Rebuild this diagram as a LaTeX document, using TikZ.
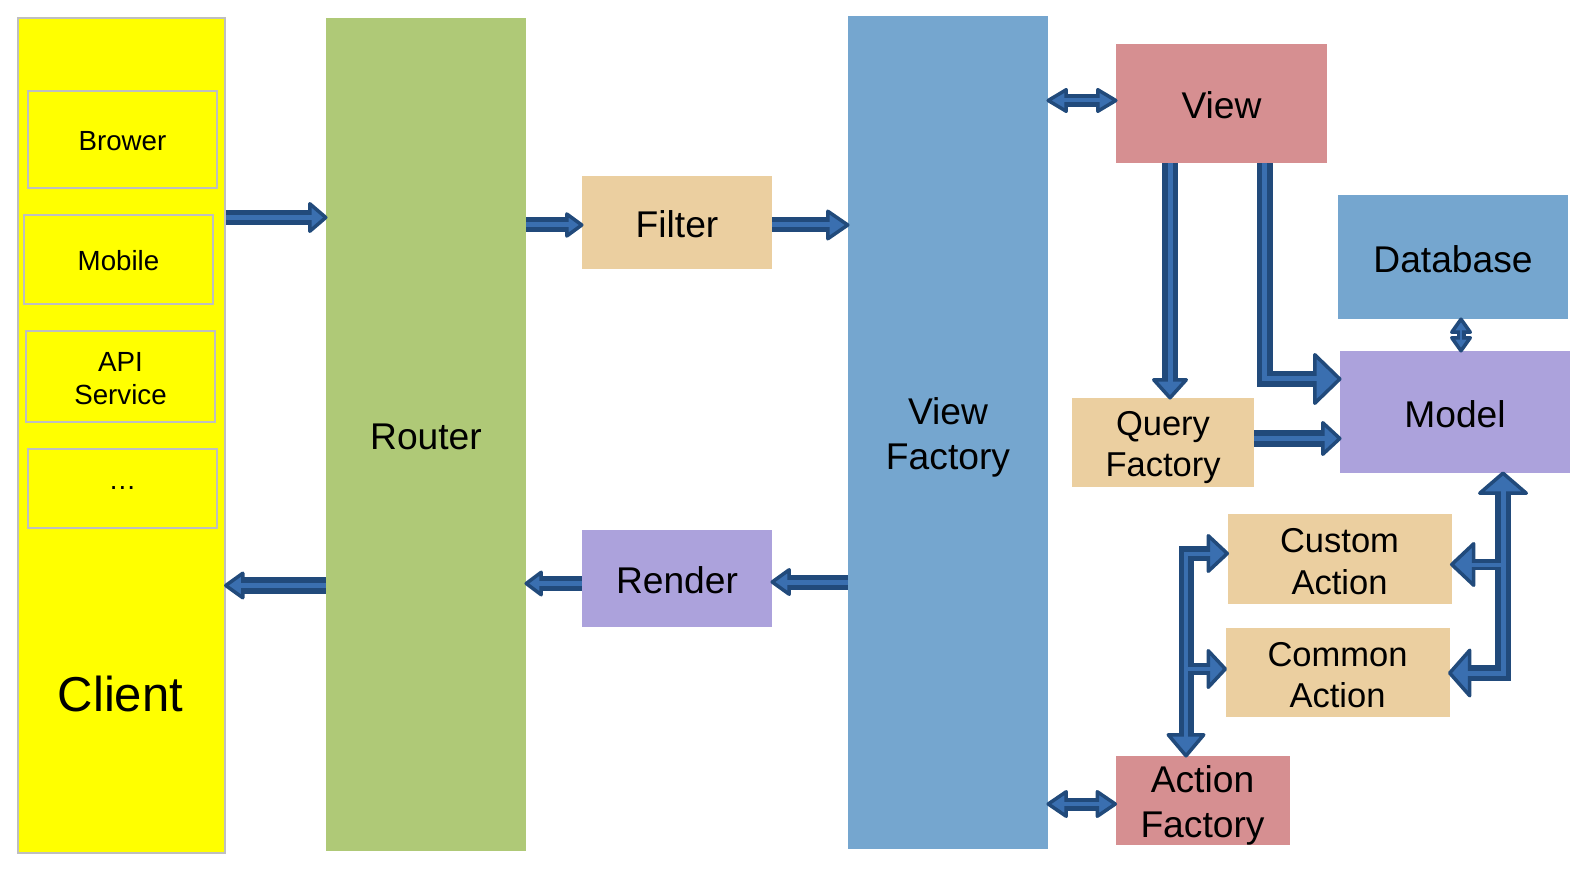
\documentclass[tikz,border=0pt]{standalone}
\usepackage{fontspec}
\setmainfont{Liberation Sans}
\usetikzlibrary{calc}
\definecolor{cyellow}{HTML}{FFFF00}
\definecolor{cgray}{HTML}{BFBFBF}
\definecolor{cgreen}{HTML}{AFC977}
\definecolor{cblue}{HTML}{75A6CF}
\definecolor{ctan}{HTML}{EBCFA0}
\definecolor{cpink}{HTML}{D68F91}
\definecolor{cpurple}{HTML}{ACA2DC}
\definecolor{adark}{HTML}{214A7B}
\definecolor{alight}{HTML}{3A6FB0}
\newcommand\ps{\rule[-0.15em]{0pt}{1.13em}}
\newcommand\ahead[3]{\filldraw[ahd] ($(#1)!#3!90:(#2)$) -- (#2) -- ($(#1)!#3!-90:(#2)$) -- cycle;}
\newcommand\sarrow[6]{%
 \coordinate (hb) at ($(#2)!#3!(#1)$);
 \coordinate (he) at ($(hb)!3pt!(#2)$);
 \draw[sdk, line width=#4] (#1) -- (he);
 \ahead{hb}{#2}{#5}
 \draw[slt, line width=#6] (#1) -- (he);
}
\newcommand\darrow[6]{%
 \coordinate (hb1) at ($(#1)!#3!(#2)$);
 \coordinate (hb2) at ($(#2)!#3!(#1)$);
 \coordinate (he1) at ($(hb1)!3pt!(#1)$);
 \coordinate (he2) at ($(hb2)!3pt!(#2)$);
 \draw[sdk, line width=#4] (he1) -- (he2);
 \ahead{hb1}{#1}{#5}\ahead{hb2}{#2}{#5}
 \draw[slt, line width=#6] (he1) -- (he2);
}
\begin{document}
\begin{tikzpicture}[x=1pt,y=-1pt,
 box/.style={rectangle, inner sep=0pt, align=center, text=black},
 sub/.style={box, fill=cyellow, draw=cgray, line width=2pt, minimum width=189pt},
 fsmall/.style={font=\fontsize{27.7}{33.4}\selectfont},
 fmain/.style={font=\fontsize{37.2}{44.6}\selectfont},
 fmid/.style={font=\fontsize{34.5}{41.5}\selectfont},
 sdk/.style={draw=adark, line cap=butt, line join=miter},
 slt/.style={draw=alight, line cap=butt, line join=miter},
 ahd/.style={fill=alight, draw=adark, line width=3.5pt, line join=round}]
\useasboundingbox (0,0) rectangle (1588,874);
\fill[white] (0,0) rectangle (1588,874);
% client column
\node[box, fill=cyellow, draw=cgray, line width=1.5pt, minimum width=207pt, minimum height=835pt] (client) at (121.5,435.5) {};
\node[sub, fsmall, minimum height=97pt] (brower) at (122.5,139.5) {\ps Brower};
\node[sub, fsmall, minimum height=89pt] (mobile) at (118.5,259.5) {\ps Mobile};
\node[sub, fsmall, minimum height=91pt] (api) at (120.5,376.5) {\ps API\\\ps Service};
\node[sub, fsmall, minimum height=79pt] (dots) at (122.5,488.5) {…};
\node[box, font=\fontsize{49}{58}\selectfont] (clientlbl) at (120.5,694) {Client};
% main columns
\node[box, fmain, fill=cgreen, minimum width=200pt, minimum height=833pt] (router) at (426,434.5) {\ps Router};
\node[box, fmain, fill=ctan, minimum width=190pt, minimum height=93pt] (filter) at (677,222.5) {\ps Filter};
\node[box, fmain, fill=cpurple, minimum width=190pt, minimum height=97pt] (render) at (677,578.5) {\ps Render};
\node[box, fmain, fill=cblue, minimum width=200pt, minimum height=833pt, font=\fontsize{37.2}{45.5}\selectfont] (vf) at (948,432.5) {\ps View\\\ps Factory};
\node[box, fmain, fill=cpink, minimum width=211pt, minimum height=119pt] (view) at (1221.5,103.5) {\ps View};
\node[box, fmain, fill=cblue, minimum width=230pt, minimum height=124pt] (database) at (1453,257) {\ps Database};
\node[box, fmain, fill=cpurple, minimum width=230pt, minimum height=122pt] (model) at (1455,412) {\ps Model};
\node[box, fmid, fill=ctan, minimum width=182pt, minimum height=89pt] (query) at (1163,442.5) {\ps Query\\\ps Factory};
\node[box, fmid, fill=ctan, minimum width=224pt, minimum height=90pt] (custom) at (1339.5,559) {\ps Custom\\\ps Action};
\node[box, fmid, fill=ctan, minimum width=224pt, minimum height=89pt] (common) at (1337.5,672.5) {\ps Common\\\ps Action};
\node[box, fmain, fill=cpink, minimum width=174pt, minimum height=89pt] (actionf) at (1202.5,800.5) {\ps Action\\\ps Factory};
% straight arrows
\coordinate (a1s) at (client.east |- 0,217.5); \coordinate (a1t) at (router.west |- 0,217.5);
\sarrow{a1s}{a1t}{16pt}{15pt}{13.75pt}{5pt}
\coordinate (a2s) at (router.west |- 0,585.5); \coordinate (a2t) at (client.east |- 0,585.5);
\sarrow{a2s}{a2t}{17pt}{17pt}{12.25pt}{5pt}
\coordinate (a3s) at (router.east |- 0,225); \coordinate (a3t) at (filter.west |- 0,225);
\sarrow{a3s}{a3t}{15pt}{15pt}{11pt}{5pt}
\coordinate (a4s) at (filter.east |- 0,225); \coordinate (a4t) at (vf.west |- 0,225);
\sarrow{a4s}{a4t}{20pt}{15pt}{13.75pt}{5pt}
\coordinate (a5s) at (render.west |- 0,583.5); \coordinate (a5t) at (router.east |- 0,583.5);
\sarrow{a5s}{a5t}{15pt}{15pt}{11.25pt}{5pt}
\coordinate (a6s) at (vf.west |- 0,582); \coordinate (a6t) at (render.east |- 0,582);
\sarrow{a6s}{a6t}{17pt}{15pt}{12.25pt}{5pt}
\coordinate (a7s) at (vf.east |- 0,100.5); \coordinate (a7t) at (view.west |- 0,100.5);
\darrow{a7s}{a7t}{18pt}{13pt}{10.75pt}{4pt}
\coordinate (a8s) at (view.south -| 1170,0); \coordinate (a8t) at (query.north -| 1170,0);
\sarrow{a8s}{a8t}{18pt}{16pt}{16.25pt}{5pt}
\coordinate (a10s) at (query.east |- 0,438.5); \coordinate (a10t) at (model.west |- 0,438.5);
\sarrow{a10s}{a10t}{17pt}{17pt}{15.75pt}{5pt}
\coordinate (a11s) at (database.south -| 1461,0); \coordinate (a11t) at (model.north -| 1461,0);
\darrow{a11s}{a11t}{13pt}{9pt}{9.25pt}{2pt}
\coordinate (a14s) at (vf.east |- 0,804); \coordinate (a14t) at (actionf.west |- 0,804);
\darrow{a14s}{a14t}{18pt}{13pt}{12.25pt}{4pt}
% elbow View -> Model
\coordinate (a9s) at (view.south -| 1264.5,0);
\coordinate (a9c) at (1264.5,379);
\coordinate (a9t) at (model.west |- 0,379);
\coordinate (a9b) at ($(a9t)+(-25,0)$);
\draw[sdk, line width=16pt] (a9s) -- (a9c) -- ($(a9b)+(3,0)$);
\ahead{a9b}{a9t}{24.25pt}
\draw[slt, line width=5pt] (a9s) -- (a9c) -- ($(a9b)+(3,0)$);
% right tree: Model <-> Common Action, -> Custom Action
\coordinate (R0) at (1503,673);
\coordinate (Rt1) at (model.south -| 1503,0); \coordinate (Rb1) at ($(Rt1)+(0,20)$);
\coordinate (Rt2) at (common.east |- 0,673); \coordinate (Rb2) at ($(Rt2)+(20,0)$);
\coordinate (Rm) at (1503,564.5);
\coordinate (Rt3) at (custom.east |- 0,564.5); \coordinate (Rb3) at ($(Rt3)+(22,0)$);
\draw[sdk, line width=16pt] ($(Rb1)+(0,-3)$) -- (R0) -- ($(Rb2)+(-3,0)$);
\draw[sdk, line width=11pt] (Rm) -- ($(Rb3)+(-3,0)$);
\ahead{Rb1}{Rt1}{23.25pt}
\ahead{Rb2}{Rt2}{22.75pt}
\ahead{Rb3}{Rt3}{20.75pt}
\draw[slt, line width=5pt] ($(Rb1)+(0,-3)$) -- (R0) -- ($(Rb2)+(-3,0)$);
\draw[slt, line width=4pt] (Rm) -- ($(Rb3)+(-3,0)$);
% left tree: -> Custom, Common, Action Factory
\coordinate (L0) at (1186,553.5);
\coordinate (Lt1) at (custom.west |- 0,553.5); \coordinate (Lb1) at ($(Lt1)+(-19,0)$);
\coordinate (Lm) at (1186,669);
\coordinate (Lt2) at (common.west |- 0,669); \coordinate (Lb2) at ($(Lt2)+(-17,0)$);
\coordinate (Lt3) at (actionf.north -| 1186,0); \coordinate (Lb3) at ($(Lt3)+(0,-21)$);
\draw[sdk, line width=15pt] ($(Lb1)+(3,0)$) -- (L0) -- ($(Lb3)+(0,3)$);
\draw[sdk, line width=12pt] (Lm) -- ($(Lb2)+(3,0)$);
\ahead{Lb1}{Lt1}{17.75pt}
\ahead{Lb2}{Lt2}{18.25pt}
\ahead{Lb3}{Lt3}{17.75pt}
\draw[slt, line width=4pt] ($(Lb1)+(3,0)$) -- (L0) -- ($(Lb3)+(0,3)$);
\draw[slt, line width=4pt] (Lm) -- ($(Lb2)+(3,0)$);
\end{tikzpicture}
\end{document}
